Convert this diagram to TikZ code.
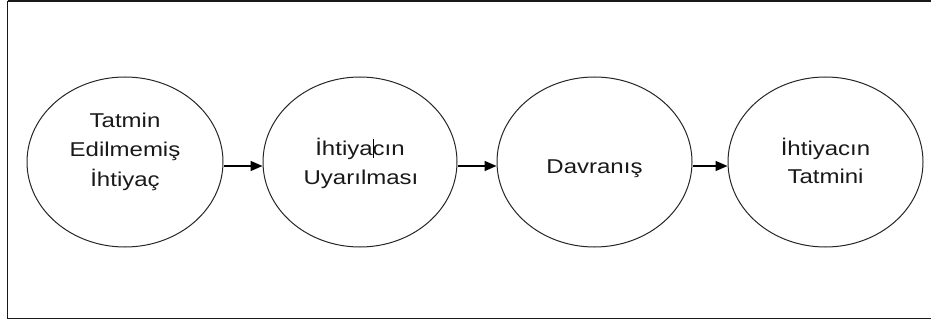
\documentclass[tikz,border=0pt]{standalone}
\usepackage{fontspec}
\setmainfont{Liberation Sans}[FakeStretch=1.2]
\usetikzlibrary{arrows.meta,shapes.geometric}
\begin{document}
\begin{tikzpicture}[x=1pt,y=-1pt,
  bubble/.style={draw=black!85,line width=1pt,ellipse,inner sep=0pt,
    minimum width=195pt,minimum height=170pt},
  lbl/.style={anchor=base,inner sep=0pt,text=black!90,
    font=\fontsize{20}{24}\selectfont},
  arr/.style={draw=black,line width=1.6pt,-{Triangle[length=12pt,width=10pt]}},
  frame/.style={draw=black!90,line width=1.8pt}]
\useasboundingbox (0,0) rectangle (931,323);
\begin{scope}
\clip (0,0) rectangle (931,323);
\draw[frame] (7.5,1) -- (940,1) (7.5,1) -- (7.5,318.5) -- (940,318.5);
\end{scope}
\node[bubble,minimum width=196pt] (e1) at (125,162) {};
\node[bubble,minimum width=194pt] (e2) at (360,162) {};
\node[bubble] (e3) at (594.5,162) {};
\node[bubble] (e4) at (825.5,162) {};
% texts
\node[lbl] (t1a) at (125,128) {Tatmin};
\node[lbl] (t1b) at (125,157) {Edilmemiş};
\node[lbl] (t1c) at (125,186) {İhtiyaç};
\node[lbl] (t2a) at (360,156) {İhtiyacın};
\node[lbl] (t2b) at (361,185) {Uyarılması};
\node[lbl] (t3a) at (594.5,174) {Davranış};
\node[lbl] (t4a) at (825.5,156) {İhtiyacın};
\node[lbl] (t4b) at (825.5,184) {Tatmini};
% text cursor artefact
\draw[line width=0.8pt] (373.5,139) -- (373.5,158);
% arrows
\draw[arr] ([yshift=-4pt]e1.east) -- ([yshift=-4pt]e2.west);
\draw[arr] ([yshift=-4pt]e2.east) -- ([yshift=-4pt]e3.west);
\draw[arr] ([yshift=-4pt]e3.east) -- ([yshift=-4pt]e4.west);
\end{tikzpicture}
\end{document}
